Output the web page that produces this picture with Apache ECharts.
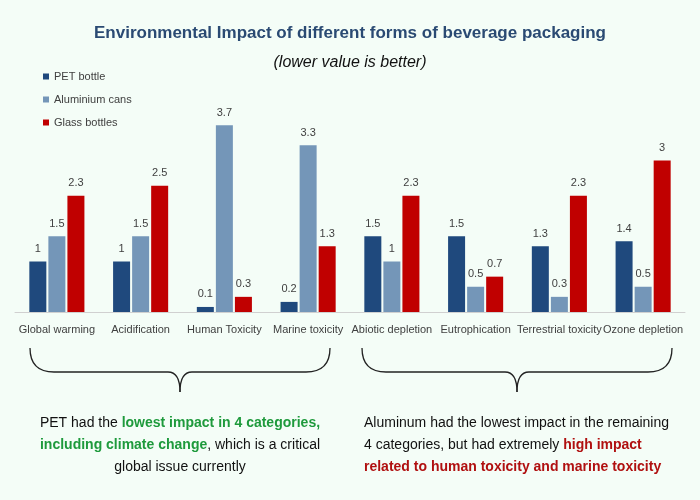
<!DOCTYPE html>
<html>
<head>
<meta charset="utf-8">
<script src="https://cdn.jsdelivr.net/npm/echarts@6/dist/echarts.min.js"></script>
<style>
  body { margin: 0; background: #f4fdf7; }
  #chart { width: 700px; height: 500px; }
</style>
</head>
<body>
<div id="chart"></div>
<script>
const categories = ["Global warming", "Acidification", "Human Toxicity", "Marine toxicity",
  "Abiotic depletion", "Eutrophication", "Terrestrial toxicity", "Ozone depletion"];
const petBottle = [1, 1, 0.1, 0.2, 1.5, 1.5, 1.3, 1.4];
const aluminiumCans = [1.5, 1.5, 3.7, 3.3, 1, 0.5, 0.3, 0.5];
const glassBottles = [2.3, 2.5, 0.3, 1.3, 2.3, 0.7, 2.3, 3];

const chart = echarts.init(document.getElementById("chart"));
const font = "Liberation Sans";

function bar(name, data, color) {
  return {
    name, type: "bar", data, barWidth: 17, barGap: "12%",
    itemStyle: { color },
    label: { show: true, position: "top", distance: 7, color: "#404040", fontSize: 11, fontFamily: font }
  };
}

// curly brace under a group of categories
function brace(x1, x2, y) {
  const m = (x1 + x2) / 2, h = 24;
  const st = { fill: null, stroke: "#222", lineWidth: 1.3 };
  const q = (a, b, c, d, e, f) => ({ type: "bezierCurve", shape: { x1: a, y1: b, cpx1: c, cpy1: d, x2: e, y2: f }, style: st });
  const l = (a, b, c, d) => ({ type: "line", shape: { x1: a, y1: b, x2: c, y2: d }, style: st });
  return { type: "group", children: [
    q(x1, y, x1, y + h, x1 + 24, y + h),
    l(x1 + 24, y + h, m - 12, y + h),
    q(m - 12, y + h, m, y + h, m, y + h + 20),
    q(m, y + h + 20, m, y + h, m + 12, y + h),
    l(m + 12, y + h, x2 - 24, y + h),
    q(x2 - 24, y + h, x2, y + h, x2, y)
  ] };
}

chart.setOption({
  backgroundColor: "#f4fdf7",
  title: [
    { text: "Environmental Impact of different forms of beverage packaging", left: "center", top: 20,
      textStyle: { color: "#2a4a73", fontSize: 17, fontWeight: "bold", fontFamily: font } },
    { text: "(lower value is better)", left: "center", top: 50,
      textStyle: { color: "#111", fontSize: 16, fontStyle: "italic", fontWeight: "normal", fontFamily: font } }
  ],
  legend: {
    orient: "vertical", left: 38, top: 66, itemWidth: 6, itemHeight: 6, itemGap: 12, icon: "rect",
    textStyle: { color: "#404040", fontSize: 11, fontFamily: font }
  },
  grid: { left: 15, right: 15, top: 110, bottom: 188 },
  xAxis: {
    type: "category", data: categories,
    axisLine: { lineStyle: { color: "#d0d0d0" } }, axisTick: { show: false },
    axisLabel: { color: "#404040", fontSize: 11, fontFamily: font, margin: 12, interval: 0 }
  },
  yAxis: { type: "value", min: 0, max: 4, show: false, splitLine: { show: false } },
  series: [
    bar("PET bottle", petBottle, "#1f497d"),
    bar("Aluminium cans", aluminiumCans, "#7496b8"),
    bar("Glass bottles", glassBottles, "#c00000")
  ],
  graphic: [
    brace(30, 330, 348),
    brace(362, 672, 348),
    { type: "text", x: 180, y: 412, style: {
      text: "PET had the {g|lowest impact in 4 categories,}\n{g|including climate change}, which is a critical\nglobal issue currently",
      fill: "#111", font: "14px " + font, lineHeight: 22, align: "center",
      rich: { g: { fill: "#1e9a3c", fontWeight: "bold", fontSize: 14, fontFamily: font } }
    } },
    { type: "text", x: 364, y: 412, style: {
      text: "Aluminum had the lowest impact in the remaining\n4 categories, but had extremely {r|high impact}\n{r|related to human toxicity and marine toxicity}",
      fill: "#111", font: "14px " + font, lineHeight: 22, align: "left",
      rich: { r: { fill: "#b01010", fontWeight: "bold", fontSize: 14, fontFamily: font } }
    } }
  ]
});
</script>
</body>
</html>
